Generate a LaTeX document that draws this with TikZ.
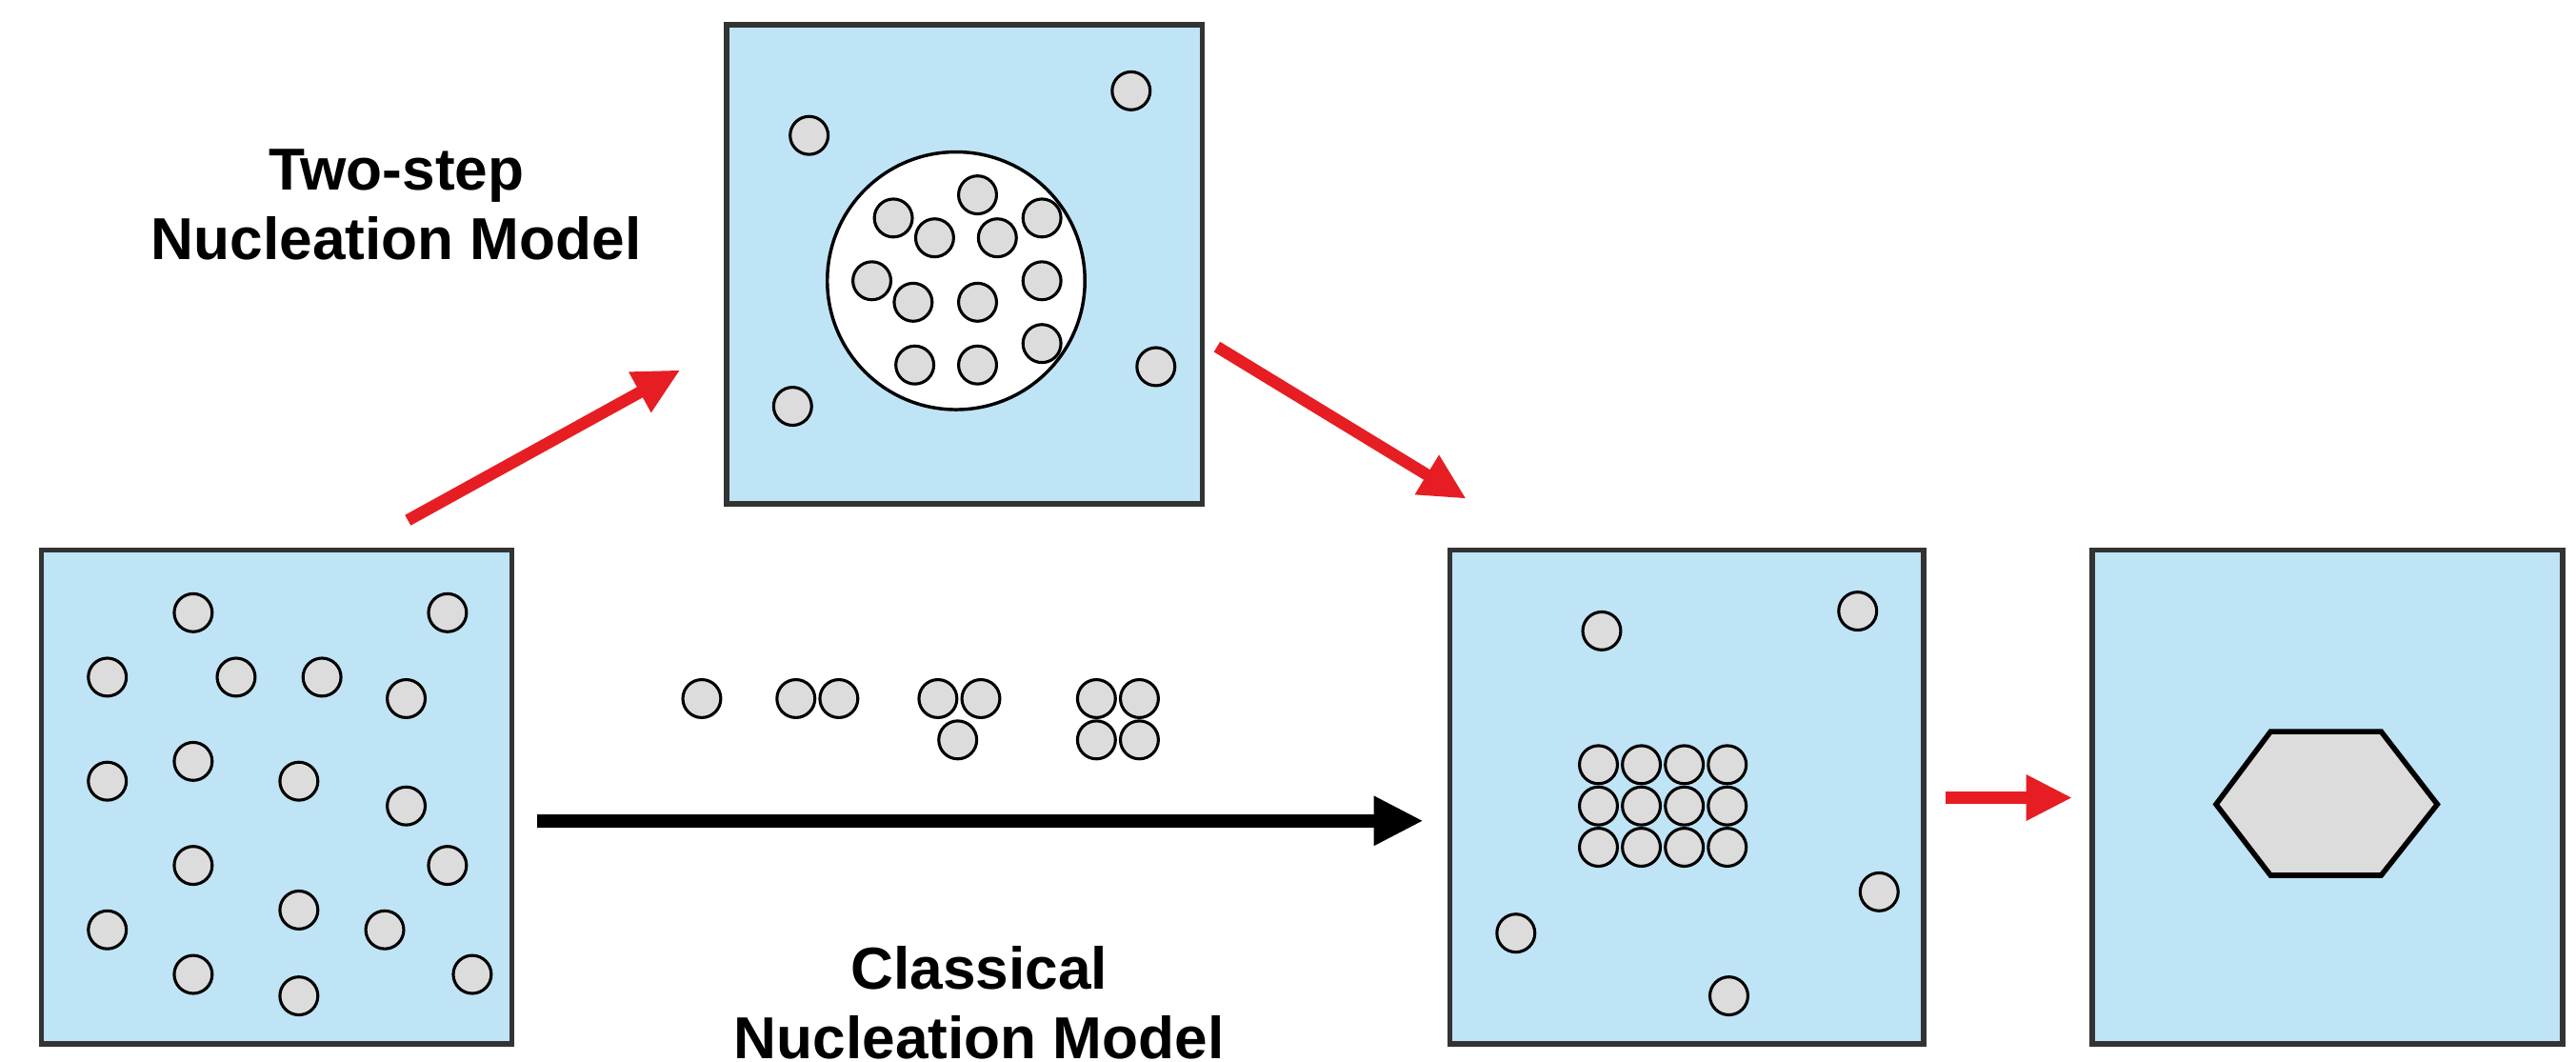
\documentclass[tikz,border=0pt]{standalone}
\usepackage{fontspec}
\setmainfont{Liberation Sans}
\usetikzlibrary{arrows.meta}
\definecolor{water}{RGB}{190,228,246}
\definecolor{grain}{RGB}{220,220,220}
\definecolor{flow}{RGB}{230,30,35}
\tikzset{
  box/.style={draw=black!80, line width=1.6mm, fill=water},
  mol/.style={circle, draw=black, line width=0.9mm, fill=grain, minimum size=11.5mm, inner sep=0pt},
  redarrow/.style={flow, line width=3.6mm, -{Triangle[length=14mm,width=13mm]}},
  modeltext/.style={font=\fontsize{51}{60}\selectfont\bfseries, align=center}
}
\begin{document}
\begin{tikzpicture}[x=0.5mm,y=-0.5mm]
\useasboundingbox (0,0) rectangle (1560,643);

\draw [box] (25,333) rectangle (310,632);
\draw [box] (440,15) rectangle (728,305);
\draw [box] (878,333) rectangle (1165,632);
\draw [box] (1267,333) rectangle (1552,632);

\foreach \x/\y [count=\i] in {117/371,271/371,65/410,143/410,195/410,246/423,65/473,117/461,181/473,246/488,117/524,271/524,65/563,181/551,233/563,117/590,181/603,286/590}
  \node[mol] (sol\i) at (\x,\y) {};

\foreach \x/\y [count=\i] in {490/82,685/55,480/246,700/222}
  \node[mol] (free\i) at (\x,\y) {};
\node[circle, draw=black, line width=1mm, fill=white, minimum size=78mm] (drop) at (579,170) {};
\foreach \x/\y [count=\i] in {592/118,541/132,566/144,604/144,631/132,528/170,553/183,592/183,631/170,554/221,592/221,631/208}
  \node[mol] (dense\i) at (\x,\y) {};

\foreach \x/\y [count=\i] in {425/423,482/423,508/423,568/423,594/423,580/448,664/423,690/423,664/448,690/448}
  \node[mol] (clu\i) at (\x,\y) {};

\foreach \x/\y [count=\i] in {970/382,1125/370,918/565,1138/540,1047/603}
  \node[mol] (left\i) at (\x,\y) {};
\foreach \x in {968,994,1020,1046}
  \foreach \y in {463,488,513}
    \node[mol] (nuc\x-\y) at (\x,\y) {};

\draw[line width=1.6mm, fill=grain, line join=miter] (1342,487) -- (1375,443) -- (1442,443) -- (1476,487) -- (1442,530) -- (1375,530) -- cycle;

\node[modeltext] (twostep) at (240,124) {Two-step\\Nucleation Model};
\node[modeltext] (classic) at (593,607) {Classical\\Nucleation Model};

\coordinate (a1) at (247,315); \coordinate (a2) at (412,224);
\coordinate (b1) at (737,210); \coordinate (b2) at (888,302);
\coordinate (c1) at (325,497); \coordinate (c2) at (862,497);
\coordinate (d1) at (1178,483); \coordinate (d2) at (1255,483);
\draw [redarrow] (a1) -- (a2);
\draw [redarrow] (b1) -- (b2);
\draw [redarrow] (d1) -- (d2);
\draw [line width=4mm, -{Triangle[length=15mm,width=14mm]}] (c1) -- (c2);
\end{tikzpicture}
\end{document}
